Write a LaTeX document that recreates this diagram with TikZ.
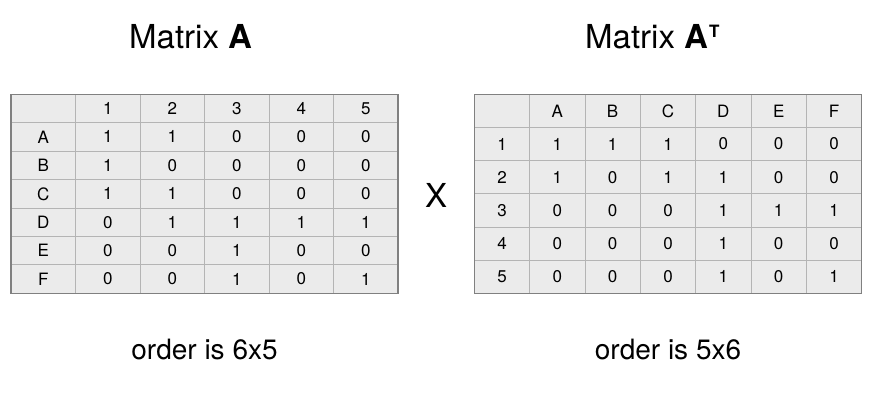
\documentclass[tikz,border=0pt]{standalone}
\usepackage{fontspec}
\setmainfont{TeX Gyre Heros}
\definecolor{cellgray}{HTML}{EBEBEB}
\definecolor{linegray}{HTML}{B4B4B4}
\definecolor{framegray}{HTML}{808080}
\tikzset{
  cell/.style={
    rectangle,
    inner sep=0pt,
    outer sep=0pt,
    fill=cellgray,
    draw=linegray,
    line width=0.9pt,
    font=\fontsize{17}{20}\selectfont
  },
  cellA/.style={cell, minimum width=64.5pt, minimum height=28.43pt},
  cellT/.style={cell, minimum width=55.34pt, minimum height=33.17pt},
  frame/.style={draw=framegray, line width=1.2pt},
  title/.style={anchor=base west, inner sep=0pt, font=\fontsize{33}{38}\selectfont},
  caption/.style={anchor=base, inner sep=0pt, font=\fontsize{28}{32}\selectfont}
}
\begin{document}
\begin{tikzpicture}[x=1pt,y=-1pt]
    \useasboundingbox (0,0) rectangle (877,409);
    % titles
    \node[title] (titleA) at (129,49) {Matrix \textbf{A}};
    \node[title] (titleT) at (585,49) {Matrix \textbf{A}\kern1pt\raisebox{11.7pt}{\fontsize{17}{20}\selectfont\bfseries T}};
    % matrix A
    \foreach \row [count=\r from 0] in {{,1,2,3,4,5},{A,1,1,0,0,0},{B,1,0,0,0,0},{C,1,1,0,0,0},{D,0,1,1,1,1},{E,0,0,1,0,0},{F,0,0,1,0,1}}
      \foreach \val [count=\c from 0] in \row
        \node[cellA] (a-\r-\c) at ({11+64.5*(\c+0.5)},{94.3+28.43*(\r+0.5)}) {\val};
    \draw[frame] (a-0-0.north west) rectangle (a-6-5.south east);
    % matrix A transposed
    \foreach \row [count=\r from 0] in {{,A,B,C,D,E,F},{1,1,1,1,0,0,0},{2,1,0,1,1,0,0},{3,0,0,0,1,1,1},{4,0,0,0,1,0,0},{5,0,0,0,1,0,1}}
      \foreach \val [count=\c from 0] in \row
        \node[cellT] (t-\r-\c) at ({474.3+55.34*(\c+0.5)},{94.3+33.17*(\r+0.5)}) {\val};
    \draw[frame] (t-0-0.north west) rectangle (t-5-6.south east);
    % times sign
    \node[font=\fontsize{33}{38}\selectfont, inner sep=0pt] (times) at (436,195) {X};
    % orders
    \node[caption] (orderA) at (204.5,359.3) {order is 6x5};
    \node[caption] (orderT) at (668,359.3) {order is 5x6};
\end{tikzpicture}
\end{document}
